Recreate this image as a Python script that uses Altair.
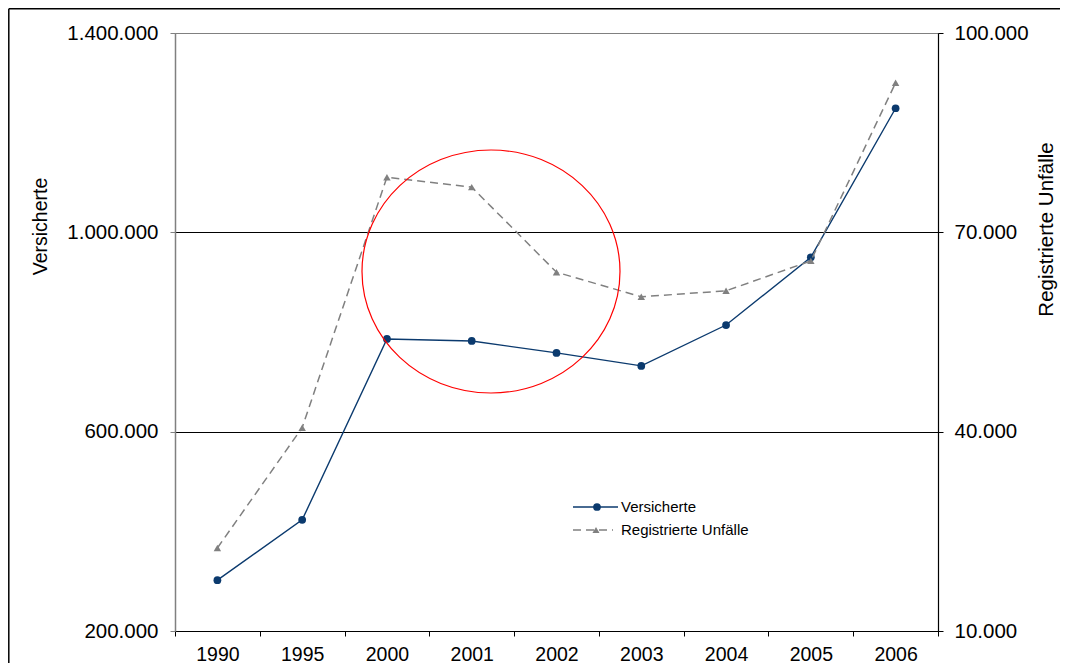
import altair as alt
import pandas as pd

years = ["1990", "1995", "2000", "2001", "2002", "2003", "2004", "2005", "2006"]
versicherte = [302000, 423000, 786000, 782000, 758000, 732000, 814000, 950000, 1249000]
unfaelle = [22500, 40600, 78300, 76800, 64000, 60300, 61200, 65700, 92500]
series = ["Versicherte", "Registrierte Unfälle"]
left_ticks = [200000, 600000, 1000000, 1400000]
right_ticks = [10000, 40000, 70000, 100000]

df = pd.DataFrame({"Jahr": years, "Versicherte": versicherte, "Unfaelle": unfaelle})

W, H = 763, 598
FONT = "Liberation Sans"
FS = 19.5
FSY = 20.5
NAVY = "#0b3a6e"
GRAY = "#808080"
fmt = "join(split(format(datum.value, ','), ','), '.')"

xenc = alt.X("Jahr:O", sort=years,
             scale=alt.Scale(type="band", paddingInner=0, paddingOuter=0),
             axis=alt.Axis(title=None, tickBand="extent", tickSize=5, labelAngle=0,
                           domainColor="black", tickColor="black", domainWidth=1.2,
                           labelFontSize=FS, labelPadding=9, labelFont=FONT,
                           labelColor="black", grid=False))

base = alt.Chart(df)

line_v = base.mark_line(color=NAVY, strokeWidth=1.4,
                        point=alt.OverlayMarkDef(filled=True, size=60, color=NAVY, shape="circle")).encode(
    x=xenc,
    y=alt.Y("Versicherte:Q",
            scale=alt.Scale(domain=[200000, 1400000], nice=False, zero=False),
            axis=alt.Axis(orient="left", values=left_ticks, labelExpr=fmt,
                          title="Versicherte", titleX=-135, titleY=193,
                          titleAngle=-90, titleBaseline="middle", titleAlign="center",
                          titleFontSize=FS, titleFont=FONT, titleFontWeight="normal",
                          titleColor="black",
                          labelFontSize=FSY, labelFont=FONT, labelColor="black",
                          labelPadding=12, tickSize=5, tickColor=GRAY, domainColor=GRAY,
                          domainWidth=1.5, grid=True,
                          gridColor={"condition": {"test": "datum.value == 1400000", "value": GRAY},
                                     "value": "black"},
                          gridWidth=1))
)

line_u = base.mark_line(color=GRAY, strokeWidth=1.5, strokeDash=[8, 5],
                        point=alt.OverlayMarkDef(filled=True, size=55, color=GRAY, shape="triangle-up")).encode(
    x=xenc,
    y=alt.Y("Unfaelle:Q",
            scale=alt.Scale(domain=[10000, 100000], nice=False, zero=False),
            axis=alt.Axis(orient="right", values=right_ticks, labelExpr=fmt,
                          title="Registrierte Unfälle", titleX=108, titleY=196,
                          titleAngle=-90, titleBaseline="middle", titleAlign="center",
                          titleFontSize=20.5, titleFont=FONT, titleFontWeight="normal",
                          titleColor="black",
                          labelFontSize=FSY, labelFont=FONT, labelColor="black",
                          labelPadding=11, tickSize=5, tickColor="black", domainColor="black",
                          domainWidth=1.2, grid=False))
)

# outer frame (open to the right and bottom, as in the reference)
frame_top = alt.Chart(pd.DataFrame({"a": [0]})).mark_rule(
    stroke="black", strokeWidth=1.5).encode(
    x=alt.value(-166.2), x2=alt.value(W + 122), y=alt.value(-24.2))
frame_left = alt.Chart(pd.DataFrame({"a": [0]})).mark_rule(
    stroke="black", strokeWidth=1.5).encode(
    x=alt.value(-166.2), y=alt.value(-24.2), y2=alt.value(H + 32))

# red circle annotation
ellipse_path = "M -1 0 A 1 0.942 0 1 1 1 0 A 1 0.942 0 1 1 -1 0"
circle = alt.Chart(pd.DataFrame({"a": [0]})).mark_point(
    shape=ellipse_path, filled=False, stroke="red", strokeWidth=1.2, size=258 * 258, opacity=1).encode(
    x=alt.value(491 - 175), y=alt.value(271.5 - 33))

# manual legend
leg_df = pd.DataFrame({"s": [series[0]]})
leg_df2 = pd.DataFrame({"s": [series[1]]})
LX0, LX1, LXP, LXT = 573 - 175, 618 - 175, 597 - 175, 621 - 175
LY1, LY2 = 507 - 33, 530 - 33
leg1_line = alt.Chart(leg_df).mark_rule(color=NAVY, strokeWidth=1.4).encode(
    x=alt.value(LX0), x2=alt.value(LX1), y=alt.value(LY1))
leg1_pt = alt.Chart(leg_df).mark_point(filled=True, color=NAVY, size=60, opacity=1).encode(
    x=alt.value(LXP), y=alt.value(LY1))
leg1_txt = alt.Chart(leg_df).mark_text(align="left", baseline="middle", fontSize=15, font=FONT,
                                       color="black").encode(
    x=alt.value(LXT), y=alt.value(LY1), text="s:N")
leg2_line = alt.Chart(leg_df2).mark_rule(color=GRAY, strokeWidth=1.5, strokeDash=[8, 5]).encode(
    x=alt.value(LX0), x2=alt.value(LX1 - 5), y=alt.value(LY2))
leg2_pt = alt.Chart(leg_df2).mark_point(filled=True, color=GRAY, size=50, shape="triangle-up",
                                        opacity=1).encode(
    x=alt.value(LXP - 1), y=alt.value(LY2))
leg2_txt = alt.Chart(leg_df2).mark_text(align="left", baseline="middle", fontSize=15, font=FONT,
                                        color="black").encode(
    x=alt.value(LXT), y=alt.value(LY2), text="s:N")

chart = alt.layer(
    frame_top, frame_left, line_v, line_u, circle,
    leg1_line, leg1_pt, leg1_txt, leg2_line, leg2_pt, leg2_txt
).resolve_scale(y="independent").properties(
    width=W, height=H,
    padding={"left": 167, "top": 25, "right": 122, "bottom": 32},
    autosize=alt.AutoSizeParams(type="none"),
).configure_view(stroke=GRAY, strokeWidth=1)

chart.save("out.html", embed_options={"renderer": "svg", "actions": False})
